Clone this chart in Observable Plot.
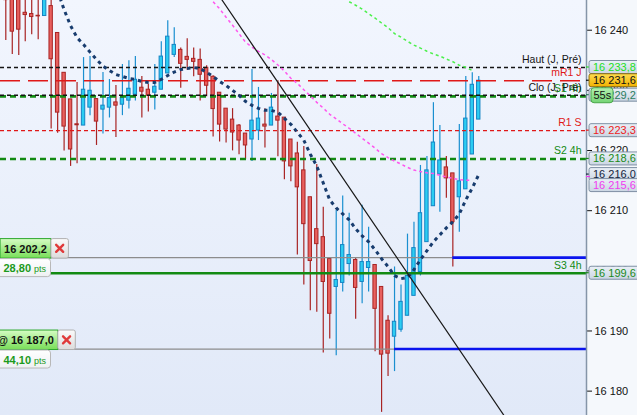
<!DOCTYPE html>
<html>
<head>
<meta charset="utf-8">
<script src="https://cdn.jsdelivr.net/npm/d3@7"></script>
<script src="https://cdn.jsdelivr.net/npm/@observablehq/plot@0.6"></script>
<style>
  html, body { margin: 0; padding: 0; background: #f5f8fc; }
  #chart { width: 637px; height: 415px; overflow: hidden; }
</style>
</head>
<body>
<div id="chart"></div>
<script>
// 1-minute candles (index 0 = leftmost, partly cut).
const opens = [16246.5, 16246.0, 16246.0, 16242.9, 16242.69, 16242.4, 16242.36, 16244.01, 16239.54, 16232.92,
  16228.5, 16224.36, 16224.15, 16227.13, 16228.55, 16226.80, 16227.13, 16228.0, 16227.62, 16228.29,
  16229.28, 16230.44, 16230.11, 16229.61, 16230.11, 16232.81, 16235.90, 16236.73, 16235.57, 16235.24,
  16235.07, 16233.75, 16232.26, 16229.61, 16226.96, 16225.14, 16224.15, 16222.82, 16221.83, 16223.32,
  16224.31, 16224.15, 16225.64, 16225.47, 16221.83, 16219.51, 16216.70, 16212.23, 16206.93, 16205.60,
  16201.96, 16197.32, 16197.99, 16201.13, 16201.80, 16198.15, 16200.47, 16200.97, 16197.32, 16191.70,
  16189.05, 16190.21, 16192.53, 16195.84, 16199.81, 16204.77, 16210.74, 16216.03, 16217.19, 16216.20,
  16212.23, 16213.55, 16219.34, 16225.14];
const highs = [16247.0, 16247.0, 16247.0, 16245.5, 16245.5, 16245.5, 16246.5, 16245.5, 16239.54, 16232.92,
  16228.5, 16231.32, 16235.45, 16235.62, 16228.55, 16232.97, 16231.81, 16230.82, 16234.30, 16234.91,
  16235.62, 16232.31, 16230.98, 16234.30, 16238.10, 16241.58, 16240.42, 16237.06, 16238.60, 16237.06,
  16236.89, 16234.08, 16232.42, 16229.61, 16226.96, 16226.96, 16224.31, 16222.82, 16233.47, 16230.49,
  16226.96, 16229.49, 16231.60, 16225.47, 16221.83, 16221.38, 16220.67, 16212.23, 16217.69, 16210.57,
  16201.96, 16210.07, 16212.44, 16209.58, 16202.13, 16210.90, 16207.26, 16200.97, 16197.32, 16192.53,
  16200.64, 16197.66, 16206.10, 16208.09, 16217.52, 16219.01, 16227.95, 16224.15, 16219.01, 16216.20,
  16224.31, 16232.31, 16232.92, 16232.31];
const lows = [16238.27, 16235.95, 16235.79, 16238.1, 16239.26, 16238.43, 16242.36, 16223.58, 16222.87, 16219.94,
  16217.36, 16217.79, 16224.15, 16225.80, 16220.84, 16222.76, 16225.41, 16222.16, 16225.80, 16226.89,
  16228.22, 16225.41, 16226.40, 16226.73, 16230.11, 16232.81, 16235.45, 16230.37, 16233.35, 16232.26,
  16228.22, 16228.95, 16222.26, 16221.43, 16221.27, 16219.94, 16219.28, 16218.52, 16218.19, 16221.66,
  16220.44, 16224.15, 16218.95, 16215.14, 16214.81, 16202.62, 16197.66, 16193.35, 16193.12, 16186.33,
  16188.65, 16185.90, 16196.50, 16199.15, 16191.96, 16194.51, 16196.50, 16186.56, 16176.47, 16182.42,
  16183.25, 16189.81, 16192.53, 16195.84, 16199.15, 16204.77, 16210.74, 16209.74, 16212.06, 16200.64,
  16206.43, 16213.55, 16219.34, 16225.14];
const closes = [16245.0, 16239.76, 16240.09, 16242.52, 16242.19, 16242.3, 16246.0, 16235.17, 16226.30, 16223.98,
  16220.17, 16224.2, 16230.11, 16229.94, 16224.81, 16227.46, 16228.72, 16227.46, 16228.72, 16230.27,
  16231.76, 16229.78, 16229.11, 16230.60, 16235.62, 16238.93, 16237.56, 16234.41, 16235.07, 16234.74,
  16232.59, 16230.77, 16226.89, 16224.31, 16223.48, 16222.99, 16221.66, 16220.84, 16224.97, 16225.31,
  16223.98, 16227.13, 16224.97, 16218.19, 16217.36, 16213.88, 16207.76, 16201.63, 16204.44, 16198.15,
  16192.86, 16198.48, 16204.28, 16202.62, 16197.16, 16201.46, 16201.46, 16193.68, 16186.07, 16186.23,
  16191.53, 16194.84, 16199.15, 16203.78, 16209.58, 16216.70, 16221.33, 16218.35, 16215.37, 16208.09,
  16214.88, 16225.31, 16230.93, 16231.6];

// Moving averages (first value sits at candle index *Start).
const maNavyStart = 8;
const maNavy = [16246.55, 16243.40, 16240.75, 16238.77, 16237.61, 16236.36, 16235.12, 16234.05, 16233.30, 16232.64,
  16232.31, 16231.98, 16231.81, 16231.48, 16231.32, 16231.32, 16231.81, 16232.47, 16233.05, 16233.47,
  16233.63, 16233.80, 16233.63, 16232.97, 16232.31, 16231.48, 16230.82, 16229.99, 16229.16, 16228.17,
  16227.51, 16227.01, 16226.68, 16226.68, 16226.35, 16225.36, 16224.36, 16223.04, 16221.71, 16219.39,
  16217.41, 16214.59, 16211.78, 16210.45, 16209.46, 16208.47, 16206.98, 16205.82, 16204.83, 16203.50,
  16202.01, 16200.69, 16199.20, 16198.70, 16198.87, 16200.19, 16201.85, 16203.34, 16204.83, 16205.98,
  16207.14, 16208.14, 16209.46, 16211.78, 16213.77, 16216.0];
const maPinkStart = 32;
const maPink = [16244.73, 16243.57, 16242.16, 16240.83, 16239.43, 16238.02, 16237.19, 16236.48, 16235.90, 16235.12,
  16234.21, 16233.22, 16232.01, 16231.15, 16230.11, 16229.08, 16228.00, 16227.06, 16226.02, 16225.27,
  16224.44, 16223.70, 16222.87, 16222.04, 16221.22, 16220.39, 16219.48, 16218.82, 16218.24, 16217.74,
  16217.19, 16216.75, 16216.50, 16216.30, 16216.17, 16215.88, 16215.59, 16215.37, 16215.17, 16215.06, 16215.04];
const maGreenStart = 53;
const maGreen = [16244.73, 16244.15, 16243.52, 16242.76, 16242.01, 16241.20, 16240.42, 16239.44, 16238.85, 16238.15,
  16237.52, 16237.03, 16236.51, 16236.05, 16235.69, 16235.21, 16234.76, 16234.18, 16233.83, 16233.30];

// Hand-drawn trendline, two anchors (candle index, price).
const trendIdx = [32, 78];
const trendVal = [16247.2, 16174.2];

// Horizontal pivot levels.
const levelNames = ["Haut (J, Pré)", "mR1 J", "S1 4h", "Clo (J, Pré)", "R1 S", "S2 4h", "S3 4h"];
const levelValues = [16233.8, 16231.6, 16229.0, 16229.2, 16223.3, 16218.6, 16199.6];

// Pending orders: price, distance in points, candle where the blue segment starts.
const orderPrices = [16202.2, 16187.0];
const orderPrefix = ["", "@ "];
const orderPts = ["28,80", "44,10"];
const orderFrom = [69, 60];

// Right axis.
const axisTicks = [16180, 16190, 16200, 16210, 16220, 16230, 16240];
const priceTags = [16233.8, 16231.6, 16229.2, 16223.3, 16218.6, 16216.0, 16215.6, 16199.6];
const currentPrice = 16231.6;
const timerText = "55s";

// ---- styles (kept apart from the data) ----
const levelStyle = {
  "Haut (J, Pré)": { stroke: "#151515", dash: "4,3", width: 1.4 },
  "mR1 J":         { stroke: "#e01818", dash: "20,8", width: 1.5 },
  "S1 4h":         { stroke: "#128a12", dash: "6,4", width: 2.6 },
  "Clo (J, Pré)":  { stroke: "#151515", dash: "4,3", width: 1.6 },
  "R1 S":          { stroke: "#e01818", dash: "4,3", width: 1.2 },
  "S2 4h":         { stroke: "#128a12", dash: "6,4", width: 2.6 },
  "S3 4h":         { stroke: "#128a12", dash: null,  width: 2.6 },
};
const tagText = ["#22e022", "#111111", "#2b7d5e", "#ee1c1c", "#1a8a1a", "#14243c", "#f03cf0", "#1a8a1a"];
const FONT = "'Liberation Sans', Arial, sans-serif";

function fmtPrice(v, d) {
  const parts = v.toFixed(d).split(".");
  const g = parts[0].replace(/\B(?=(\d{3})+(?!\d))/g, " ");
  return parts[1] ? g + "," + parts[1] : g;
}

const candles = opens.map((o, i) => ({
  i, open: o, high: highs[i], low: lows[i], close: closes[i], up: closes[i] >= o
}));
const series = (arr, start) => arr.map((v, k) => ({ i: start + k, v }));
const levels = levelNames.map((name, k) => ({ name, value: levelValues[k] }));
const orders = orderPrices.map((p, k) => ({ price: p, from: orderFrom[k] }));
const trend = trendIdx.map((i, k) => ({ i, v: trendVal[k] }));

const xDomain = [-0.818, 89.63];
const yDomain = [16175.95, 16244.94];

const marks = [];

// candles first, everything else is painted over them
marks.push(
  Plot.ruleX(candles, {
    x: "i", y1: "low", y2: "high",
    stroke: d => d.up ? "#1a8fd0" : "#a82424",
    strokeWidth: 1.2, clip: true
  }),
  Plot.rect(candles, {
    x1: d => d.i - 0.26, x2: d => d.i + 0.26, y1: "open", y2: "close",
    fill: d => d.up ? "#2ccdf2" : "#e8605e",
    stroke: d => d.up ? "#1584c4" : "#a82424",
    strokeWidth: 1, clip: true
  })
);

levels.forEach(l => {
  const s = levelStyle[l.name];
  marks.push(Plot.ruleY([l], {
    y: "value", stroke: s.stroke, strokeWidth: s.width,
    strokeDasharray: s.dash || undefined
  }));
});

// order lines: grey up to the order candle, blue from there to the axis
marks.push(
  Plot.ruleY(orders, { y: "price", x1: () => xDomain[0], x2: "from", stroke: "#8c8c8c", strokeWidth: 1.3 }),
  Plot.ruleY(orders, { y: "price", x1: "from", x2: () => xDomain[1], stroke: "#0a14ee", strokeWidth: 2.6 })
);

const dashed = { x: "i", y: "v", strokeLinecap: "butt", strokeLinejoin: "miter", clip: true };
marks.push(
  Plot.line(series(maGreen, maGreenStart), { ...dashed, stroke: "#4cf04c", strokeWidth: 1.5, strokeDasharray: "3,3" }),
  Plot.line(series(maPink, maPinkStart), { ...dashed, stroke: "#ff55ee", strokeWidth: 1.5, strokeDasharray: "3,3" }),
  Plot.line(series(maNavy, maNavyStart), { ...dashed, stroke: "#183c6e", strokeWidth: 3, strokeDasharray: "3.5,4" }),
  Plot.line(trend, { x: "i", y: "v", stroke: "#1a1a1a", strokeWidth: 1.2, clip: true })
);

// level names, right-aligned just above their line
levels.forEach(l => {
  const s = levelStyle[l.name];
  marks.push(Plot.text([l], {
    y: "value", frameAnchor: "right", text: "name",
    textAnchor: "end", dx: -5, dy: -8, fill: s.stroke, fontSize: 10.5
  }));
});

const plot = Plot.plot({
  width: 637,
  height: 415,
  marginLeft: 0,
  marginRight: 51,
  marginTop: 0,
  marginBottom: 0,
  style: {
    background: "transparent",
    color: "#111",
    fontFamily: FONT,
    fontSize: "11px",
    overflow: "hidden"
  },
  x: { domain: xDomain, axis: null },
  y: {
    domain: yDomain,
    axis: "right",
    ticks: axisTicks,
    tickFormat: d => fmtPrice(d, 0),
    tickSize: 5,
    tickPadding: 3,
    label: null
  },
  marks
});

document.getElementById("chart").appendChild(plot);

// ---- overlays drawn with the plot's own scales ----
const svg = d3.select(plot);
const Y = v => plot.scale("y").apply(v);
const X = v => plot.scale("x").apply(v);
const right = X(xDomain[1]);

svg.insert("rect", ":first-child")
  .attr("x", 0).attr("y", 0).attr("width", right).attr("height", 415)
  .attr("fill", "url(#bgGrad)");
const defs = svg.insert("defs", ":first-child");
function grad(id, c0, c1) {
  const g = defs.append("linearGradient").attr("id", id)
    .attr("x1", 0).attr("y1", 0).attr("x2", 0).attr("y2", 1);
  g.append("stop").attr("offset", "0%").attr("stop-color", c0);
  g.append("stop").attr("offset", "100%").attr("stop-color", c1);
}
grad("bgGrad", "#f2f6fe", "#e1e9f8");
grad("tagGrad", "#eaf0f7", "#cbd6e3");
grad("goldGrad", "#ffdc50", "#f2b200");
grad("greenGrad", "#d6fcc4", "#78de58");
grad("xGrad", "#fbfbfb", "#dcdcdc");
grad("ptsGrad", "#ffffff", "#eef0f2");
grad("timerGrad", "#b4f0b0", "#74d474");

// axis line
svg.append("line")
  .attr("x1", right + 0.5).attr("x2", right + 0.5).attr("y1", 0).attr("y2", 415)
  .attr("stroke", "#8595a8").attr("stroke-width", 1.5);

// price tags on the right axis, pushed apart when they collide
const tagG = svg.append("g")
  .attr("font-family", FONT).attr("font-size", 11).attr("text-anchor", "start");
const tagH = 13, tagGap = 11;
let lastY = -Infinity;
let currentY = null;
priceTags.map((v, k) => ({ v, k, y0: Y(v) }))
  .sort((a, b) => a.y0 - b.y0)
  .forEach(t => {
    const yc = Math.max(t.y0, lastY + tagGap);
    lastY = yc;
    const isCur = t.v === currentPrice;
    if (isCur) currentY = yc;
    tagG.append("line")
      .attr("x1", right).attr("x2", right + 4).attr("y1", t.y0).attr("y2", t.y0)
      .attr("stroke", tagText[t.k]).attr("stroke-width", 1.2);
    tagG.append("rect")
      .attr("x", right + 3).attr("y", yc - tagH / 2).attr("width", 60).attr("height", tagH)
      .attr("rx", 2)
      .attr("fill", isCur ? "url(#goldGrad)" : "url(#tagGrad)")
      .attr("stroke", isCur ? "#8a6c10" : "#7f90a4").attr("stroke-width", 1);
    tagG.append("text")
      .attr("x", right + 7).attr("y", yc + 4)
      .attr("fill", tagText[t.k])
      .text(fmtPrice(t.v, 1));
  });

// countdown badge under the current price
if (currentY !== null) {
  const ty = currentY + tagH / 2 + 1;
  tagG.append("rect")
    .attr("x", right + 5).attr("y", ty).attr("width", 22).attr("height", 15).attr("rx", 3)
    .attr("fill", "url(#timerGrad)").attr("stroke", "#4aa84a");
  tagG.append("text")
    .attr("x", right + 7.5).attr("y", ty + 11.5).attr("fill", "#111").text(timerText);
}

// pending-order boxes on the left edge
const ordG = svg.append("g").attr("font-family", FONT).attr("text-anchor", "start");
orders.forEach((o, k) => {
  const ly = Y(o.price);
  const g = ordG.append("g");
  const box = g.append("rect");
  const txt = g.append("text")
    .attr("font-size", 11).attr("font-weight", "bold").attr("fill", "#111")
    .attr("text-anchor", "middle")
    .attr("x", 25.5).attr("y", ly - 4.5)
    .text(orderPrefix[k] + fmtPrice(o.price, 1));
  const tw = txt.node().getComputedTextLength();
  const w = tw + 8;
  const x0 = 25.5 - w / 2;
  box.attr("x", x0).attr("y", ly - 18.5).attr("width", w).attr("height", 19.5)
    .attr("fill", "url(#greenGrad)").attr("stroke", "#2da82d").attr("stroke-width", 1);
  // close button
  const bx = x0 + w;
  g.append("rect")
    .attr("x", bx).attr("y", ly - 18.5).attr("width", 17.5).attr("height", 19.5).attr("rx", 2)
    .attr("fill", "url(#xGrad)").attr("stroke", "#b0b0b0");
  const cx = bx + 8.75, cy = ly - 8.75;
  g.append("path")
    .attr("d", `M${cx - 3.5},${cy - 3.5}L${cx + 3.5},${cy + 3.5}M${cx + 3.5},${cy - 3.5}L${cx - 3.5},${cy + 3.5}`)
    .attr("stroke", "#e03a3a").attr("stroke-width", 2.4).attr("stroke-linecap", "round");
  // points box
  g.append("rect")
    .attr("x", -4).attr("y", ly + 1.5).attr("width", 54.5).attr("height", 18).attr("rx", 3)
    .attr("fill", "url(#ptsGrad)").attr("stroke", "#b8b8b8");
  const pt = g.append("text").attr("x", 3.5).attr("y", ly + 15).attr("fill", "#1c9a1c");
  pt.append("tspan").attr("font-size", 11).attr("font-weight", "bold").text(orderPts[k]);
  pt.append("tspan").attr("font-size", 9).attr("dx", 3).text("pts");
});
</script>
</body>
</html>
